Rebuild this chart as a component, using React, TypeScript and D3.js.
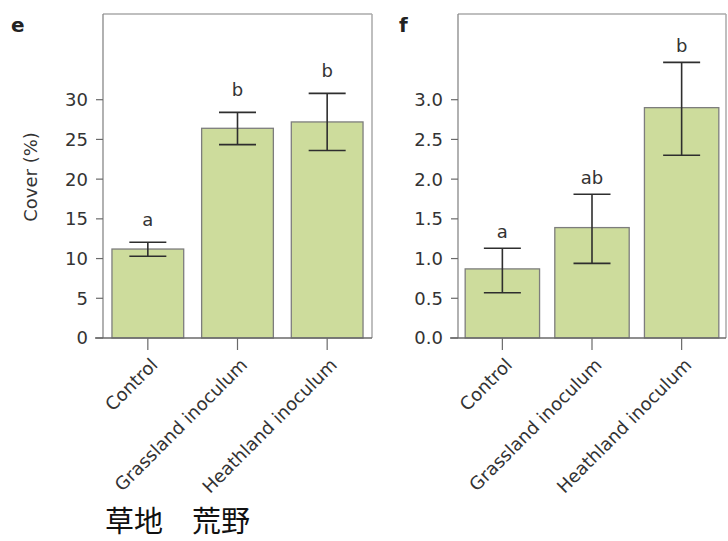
import React from "react";
import * as d3 from "d3";

const categories = ["Control", "Grassland inoculum", "Heathland inoculum"];

const coverE = [11.2, 26.4, 27.2];
const errLowE = [10.3, 24.35, 23.6];
const errHighE = [12.05, 28.4, 30.8];
const lettersE = ["a", "b", "b"];
const ticksE = [0, 5, 10, 15, 20, 25, 30];

const coverF = [0.87, 1.39, 2.9];
const errLowF = [0.57, 0.94, 2.3];
const errHighF = [1.13, 1.81, 3.47];
const lettersF = ["a", "ab", "b"];
const ticksF = [0, 0.5, 1.0, 1.5, 2.0, 2.5, 3.0];

const FONT = "'DejaVu Sans', sans-serif";
const TEXT = "#333";

type PanelProps = {
  label: string;
  labelX: number;
  left: number;
  right: number;
  top: number;
  bottom: number;
  values: number[];
  low: number[];
  high: number[];
  letters: string[];
  ticks: number[];
  tickTop: number;
  tickFmt: (v: number) => string;
  padInner: number;
  padOuter: number;
  letterGap: number;
  yLabel?: string;
};

function Panel(p: PanelProps) {
  const x = d3
    .scaleBand<string>()
    .domain(categories)
    .range([p.left, p.right])
    .paddingInner(p.padInner)
    .paddingOuter(p.padOuter);
  const y = d3
    .scaleLinear()
    .domain([0, p.tickTop])
    .range([p.bottom, 99.7]);
  const bw = x.bandwidth();
  const cap = 37;
  return (
    <g>
      <text
        x={p.labelX}
        y={32}
        fontFamily={FONT}
        fontWeight="bold"
        fontSize={20}
        fill="#222"
      >
        {p.label}
      </text>
      {/* frame */}
      <line x1={p.left} x2={p.right} y1={p.top} y2={p.top} stroke="#aaa" strokeWidth={1.5} />
      <line x1={p.right} x2={p.right} y1={p.top} y2={p.bottom} stroke="#aaa" strokeWidth={1.5} />
      <line x1={p.left} x2={p.left} y1={p.top} y2={p.bottom} stroke="#888" strokeWidth={1.3} />
      {/* bars */}
      {categories.map((c, i) => (
        <rect
          key={c}
          x={x(c)}
          y={y(p.values[i])}
          width={bw}
          height={p.bottom - y(p.values[i])}
          fill="#cddc9c"
          stroke="#7d7d7d"
          strokeWidth={1.3}
        />
      ))}
      <line x1={p.left - 8} x2={p.right} y1={p.bottom} y2={p.bottom} stroke="#6a6a6a" strokeWidth={1.3} />
      {/* y ticks */}
      {p.ticks.map((t) => (
        <g key={t}>
          <line x1={p.left - 7} x2={p.left} y1={y(t)} y2={y(t)} stroke="#6a6a6a" strokeWidth={1.2} />
          <text
            x={p.left - 15}
            y={y(t)}
            dy="0.36em"
            textAnchor="end"
            fontFamily={FONT}
            fontSize={18}
            fill={TEXT}
          >
            {p.tickFmt(t)}
          </text>
        </g>
      ))}
      {/* error bars */}
      {categories.map((c, i) => {
        const cx = (x(c) as number) + bw / 2;
        return (
          <g key={c} stroke="#2e2e2e" strokeWidth={1.6}>
            <line x1={cx} x2={cx} y1={y(p.high[i])} y2={y(p.low[i])} />
            <line x1={cx - cap / 2} x2={cx + cap / 2} y1={y(p.high[i])} y2={y(p.high[i])} />
            <line x1={cx - cap / 2} x2={cx + cap / 2} y1={y(p.low[i])} y2={y(p.low[i])} />
          </g>
        );
      })}
      {/* letters */}
      {categories.map((c, i) => (
        <text
          key={c}
          x={(x(c) as number) + bw / 2}
          y={y(p.high[i]) - p.letterGap}
          textAnchor="middle"
          fontFamily={FONT}
          fontSize={18}
          fill={TEXT}
        >
          {p.letters[i]}
        </text>
      ))}
      {/* x ticks and labels */}
      {categories.map((c) => {
        const cx = (x(c) as number) + bw / 2;
        return (
          <g key={c}>
            <line x1={cx} x2={cx} y1={p.bottom} y2={p.bottom + 12} stroke="#6a6a6a" strokeWidth={1.2} />
            <text
              transform={`translate(${cx + 11},${p.bottom + 28}) rotate(-45)`}
              textAnchor="end"
              fontFamily={FONT}
              fontSize={18}
              fill={TEXT}
            >
              {c}
            </text>
          </g>
        );
      })}
      {p.yLabel && (
        <text
          transform={`translate(37,177) rotate(-90)`}
          textAnchor="middle"
          fontFamily={FONT}
          fontSize={18}
          fill={TEXT}
        >
          {p.yLabel}
        </text>
      )}
    </g>
  );
}

export default function App() {
  return (
    <svg
      width={728}
      height={541}
      style={{ position: "absolute", left: 0, top: 0, background: "#fff" }}
    >
      <rect width={728} height={541} fill="#fff" />
      <Panel
        label="e"
        labelX={11}
        left={103}
        right={372}
        top={14}
        bottom={338}
        values={coverE}
        low={errLowE}
        high={errHighE}
        letters={lettersE}
        ticks={ticksE}
        tickTop={30}
        tickFmt={(v) => d3.format("d")(v)}
        padInner={0.2}
        padOuter={0.1}
        letterGap={16}
        yLabel="Cover (%)"
      />
      <Panel
        label="f"
        labelX={399}
        left={458}
        right={726}
        top={14}
        bottom={338}
        values={coverF}
        low={errLowF}
        high={errHighF}
        letters={lettersF}
        ticks={ticksF}
        tickTop={3}
        tickFmt={(v) => d3.format(".1f")(v)}
        padInner={0.17}
        padOuter={0.08}
        letterGap={10}
      />
      <text x={105} y={532} fontFamily="'Noto Sans CJK SC', sans-serif" fontSize={29} fill="#111">
        草地
      </text>
      <text x={192} y={532} fontFamily="'Noto Sans CJK SC', sans-serif" fontSize={29} fill="#111">
        荒野
      </text>
    </svg>
  );
}
